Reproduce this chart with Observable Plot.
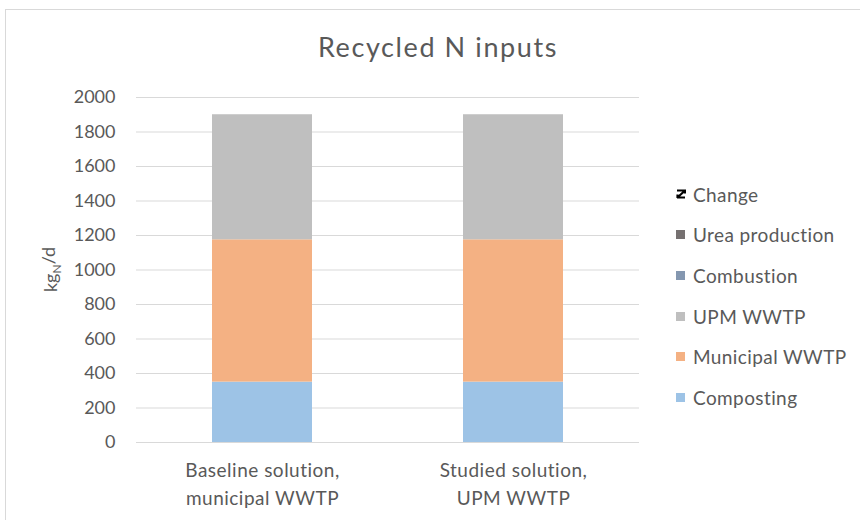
<!DOCTYPE html>
<html>
<head>
<meta charset="utf-8">
<script src="https://cdn.jsdelivr.net/npm/d3@7"></script>
<script src="https://cdn.jsdelivr.net/npm/@observablehq/plot@0.6"></script>
<style>
  html, body { margin: 0; padding: 0; background: #fff; }
  #wrap { position: relative; width: 860px; height: 520px; overflow: hidden; font-family: Lato, "DejaVu Sans", sans-serif; color: #595959; }
  #frame { position: absolute; left: 5px; top: 9px; width: 900px; height: 600px; border-left: 1.5px solid #d9d9d9; border-top: 1.5px solid #d9d9d9; box-sizing: border-box; }
  #title { position: absolute; left: 0; width: 876px; top: 30px; text-align: center; font-size: 27px; letter-spacing: 1.6px; line-height: 34px; }
  #chart { position: absolute; left: 0; top: 85px; }
  #chart g[aria-label="x-axis tick label"] text { letter-spacing: 0.5px; }
  #legend { position: absolute; left: 676px; top: 174px; }
  .item { display: flex; align-items: center; height: 40.6px; font-size: 19px; letter-spacing: 0.4px; }
  .sw { width: 9px; height: 9px; margin-right: 8px; flex: none; }
</style>
</head>
<body>
<div id="wrap">
  <div id="frame"></div>
  <div id="title">Recycled N inputs</div>
  <div id="chart"></div>
  <div id="legend"></div>
</div>
<script>
// ---- data ----
const categories = ["Baseline solution,\nmunicipal WWTP", "Studied solution,\nUPM WWTP"];
const seriesNames = ["Composting", "Municipal WWTP", "UPM WWTP", "Combustion", "Urea production", "Change"];
const composting = [350, 350];
const municipalWWTP = [825, 825];
const upmWWTP = [725, 725];
const combustion = [0, 0];
const ureaProduction = [0, 0];
const change = [0, 0];
const seriesColors = ["#9dc3e6", "#f4b183", "#bfbfbf", "#8497b0", "#767171", "#000000"];
const yTicks = [0, 200, 400, 600, 800, 1000, 1200, 1400, 1600, 1800, 2000];
const yLabel = "kg";
const yLabelSub = "N";
const yLabelTail = "/d";

const seriesValues = [composting, municipalWWTP, upmWWTP, combustion, ureaProduction, change];
const rows = [];
seriesNames.forEach((s, si) => {
  if (s === "Change") return;
  categories.forEach((c, ci) => rows.push({category: c, series: s, value: seriesValues[si][ci]}));
});

const textColor = "#595959";
const chart = Plot.plot({
  width: 860,
  height: 435,
  marginLeft: 136,
  marginRight: 221,
  marginTop: 12,
  marginBottom: 78,
  style: {fontFamily: "Lato, 'DejaVu Sans', sans-serif", color: textColor, background: "transparent"},
  x: {domain: categories, paddingInner: 0.6, paddingOuter: 0.3, label: null},
  y: {domain: [0, 2000], label: null},
  color: {domain: seriesNames, range: seriesColors},
  marks: [
    Plot.gridY(yTicks, {stroke: "#d9d9d9", strokeOpacity: 1, strokeWidth: 1.2}),
    Plot.barY(rows, {x: "category", y: "value", fill: "series", order: seriesNames}),
    Plot.axisY(yTicks, {tickSize: 0, tickPadding: 21, fontSize: 18, fill: textColor, label: null, tickFormat: d => String(d)}),
    Plot.axisX({tickSize: 0, tickPadding: 15, fontSize: 19, fill: textColor, lineHeight: 1.45, label: null})
  ]
});
document.getElementById("chart").appendChild(chart);

// y-axis label with subscript
const svg = d3.select(chart);
const t = svg.append("text")
  .attr("transform", `translate(57, ${(12 + 357) / 2}) rotate(-90)`)
  .attr("text-anchor", "middle")
  .attr("fill", textColor)
  .style("font-size", "18px");
t.append("tspan").text(yLabel);
t.append("tspan").attr("dy", "0.3em").style("font-size", "12px").text(yLabelSub);
t.append("tspan").attr("dy", "-0.3em").text(yLabelTail);

// legend (reverse of stacking order, as in the reference)
const legend = d3.select("#legend");
seriesNames.slice().reverse().forEach(name => {
  const i = seriesNames.indexOf(name);
  const item = legend.append("div").attr("class", "item");
  if (name === "Change") {
    const s = item.append("svg").attr("width", 10).attr("height", 10).style("margin-right", "7px").style("flex", "none");
    s.append("path").attr("d", "M1,1.5 H9 V4.5 M1,8.5 H9 M1.5,9 V5.5 M8.5,2 L2,8").attr("stroke", "#000").attr("stroke-width", 2.2).attr("fill", "none");
  } else {
    item.append("div").attr("class", "sw").style("background", seriesColors[i]);
  }
  item.append("span").text(name);
});
</script>
</body>
</html>
